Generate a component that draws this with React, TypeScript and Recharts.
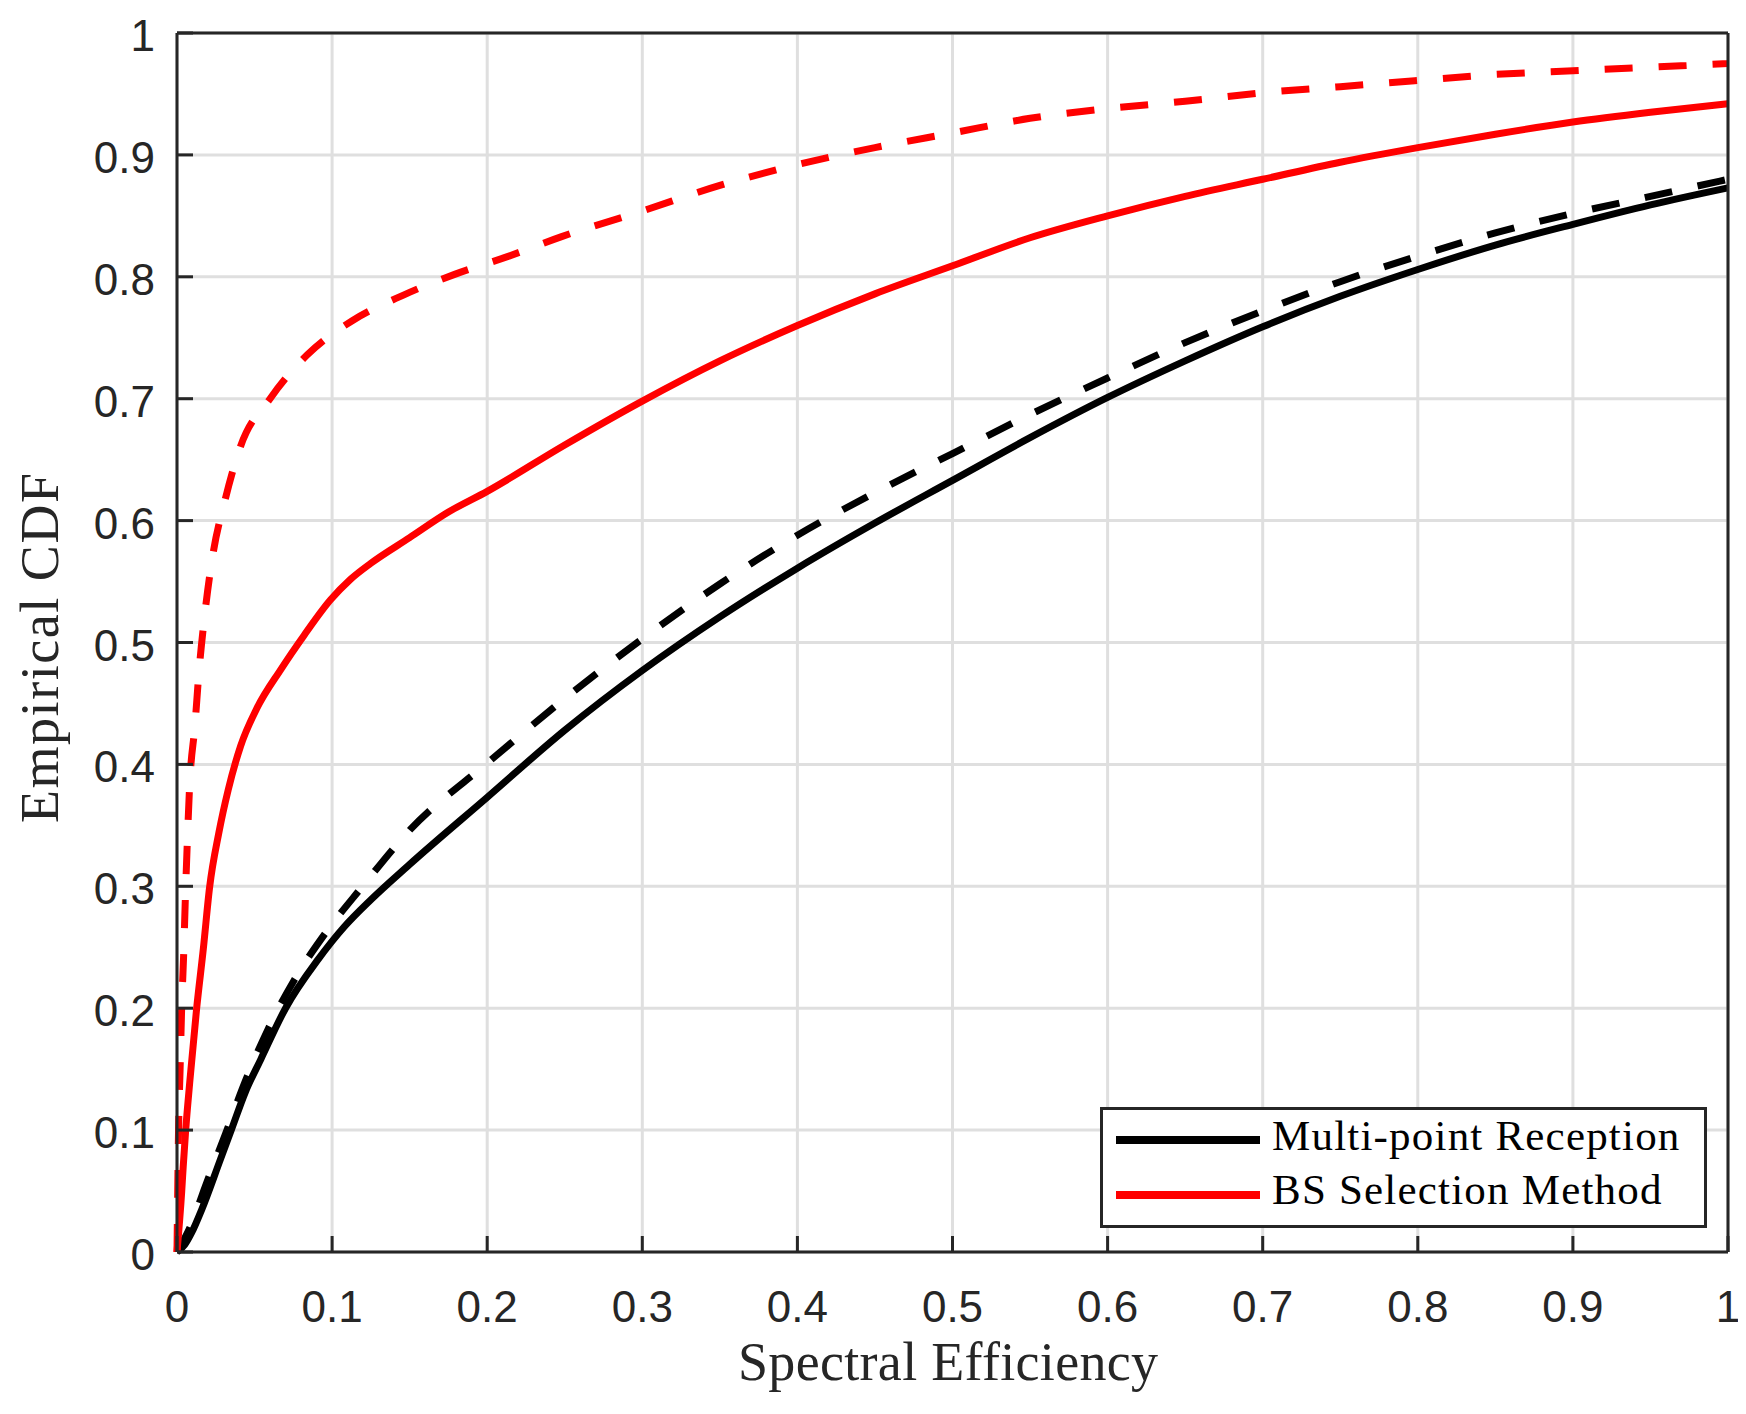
import { LineChart, Line, XAxis, YAxis, CartesianGrid, Legend } from 'recharts';

// axis ticks (both axes run 0..1)
const axisTicks = [0, 0.1, 0.2, 0.3, 0.4, 0.5, 0.6, 0.7, 0.8, 0.9, 1];

// legend entries, in the order shown
const legendNames = ['Multi-point Reception', 'BS Selection Method'];

// Multi-point Reception, solid black
const multiX = [0, 0.005, 0.0095, 0.016, 0.028, 0.035, 0.044, 0.054, 0.07, 0.091, 0.108, 0.125, 0.15, 0.2, 0.25, 0.3, 0.35, 0.4, 0.45, 0.5, 0.55, 0.6, 0.65, 0.7, 0.75, 0.8, 0.85, 0.9, 0.95, 1];
const multiY = [0, 0.006, 0.016, 0.035, 0.076, 0.1, 0.131, 0.158, 0.2, 0.24, 0.267, 0.289, 0.318, 0.373, 0.428, 0.477, 0.521, 0.561, 0.598, 0.633, 0.668, 0.701, 0.731, 0.759, 0.784, 0.806, 0.826, 0.843, 0.859, 0.873];

// Multi-point Reception, dashed black
const multiDashX = [0, 0.01, 0.018, 0.031, 0.044, 0.0588, 0.076, 0.0965, 0.119, 0.15, 0.2, 0.25, 0.3, 0.35, 0.4, 0.45, 0.5, 0.55, 0.6, 0.65, 0.7, 0.75, 0.8, 0.85, 0.9, 0.95, 1];
const multiDashY = [0, 0.025, 0.053, 0.096, 0.14, 0.183, 0.224, 0.263, 0.299, 0.346, 0.401, 0.454, 0.503, 0.548, 0.588, 0.623, 0.655, 0.687, 0.717, 0.746, 0.772, 0.796, 0.817, 0.836, 0.852, 0.866, 0.88];

// BS Selection Method, solid red
const bsX = [0, 0.003, 0.004, 0.0056, 0.0082, 0.0126, 0.017, 0.021, 0.027, 0.033, 0.041, 0.0515, 0.067, 0.082, 0.099, 0.112, 0.125, 0.15, 0.175, 0.2, 0.25, 0.3, 0.35, 0.4, 0.45, 0.5, 0.55, 0.6, 0.65, 0.7, 0.75, 0.8, 0.85, 0.9, 0.95, 1];
const bsY = [0, 0.049, 0.07, 0.1, 0.139, 0.199, 0.249, 0.299, 0.344, 0.379, 0.415, 0.446, 0.478, 0.506, 0.535, 0.552, 0.565, 0.586, 0.607, 0.624, 0.662, 0.698, 0.731, 0.76, 0.786, 0.809, 0.832, 0.85, 0.866, 0.88, 0.894, 0.906, 0.917, 0.927, 0.935, 0.942];

// BS Selection Method, dashed red
const bsDashX = [0, 0.001, 0.002, 0.003, 0.0043, 0.0054, 0.0067, 0.0082, 0.0115, 0.0143, 0.018, 0.023, 0.031, 0.041, 0.06, 0.084, 0.113, 0.146, 0.179, 0.214, 0.248, 0.3, 0.35, 0.4, 0.45, 0.5, 0.55, 0.6, 0.65, 0.7, 0.75, 0.8, 0.85, 0.9, 0.95, 1];
const bsDashY = [0, 0.1, 0.15, 0.2, 0.244, 0.291, 0.338, 0.384, 0.431, 0.478, 0.524, 0.571, 0.617, 0.661, 0.7, 0.736, 0.764, 0.785, 0.802, 0.817, 0.833, 0.854, 0.875, 0.892, 0.906, 0.918, 0.93, 0.938, 0.944, 0.951, 0.956, 0.961, 0.966, 0.969, 0.972, 0.975];

const zip = (xs: number[], ys: number[]) => xs.map((x, i) => ({ x, y: ys[i] }));

const INK = '#262626';
const TICK_LEN = 16;
const SANS = '"Liberation Sans", Arial, Helvetica, sans-serif';
const SERIF = '"Liberation Serif", "Times New Roman", serif';

function BottomTick({ x, y, payload }: any) {
  return (
    <g>
      <line x1={x} y1={y} x2={x} y2={y - TICK_LEN} stroke={INK} strokeWidth={3} />
      <text x={x} y={y + 70} textAnchor="middle" fontFamily={SANS} fontSize={44} fill={INK}>
        {String(payload.value)}
      </text>
    </g>
  );
}

function LeftTick({ x, y, payload }: any) {
  return (
    <g>
      <line x1={x} y1={y} x2={x + TICK_LEN} y2={y} stroke={INK} strokeWidth={3} />
      <text x={x - 22} y={y + 18} textAnchor="end" fontFamily={SANS} fontSize={44} fill={INK}>
        {String(payload.value)}
      </text>
    </g>
  );
}

function TopTick({ x, y }: any) {
  return <line x1={x} y1={y} x2={x} y2={y + TICK_LEN} stroke={INK} strokeWidth={3} />;
}

function RightTick({ x, y }: any) {
  return <line x1={x} y1={y} x2={x - TICK_LEN} y2={y} stroke={INK} strokeWidth={3} />;
}

const xLabel = () => (
  <text x={940} y={1372} textAnchor="middle" fontFamily={SERIF} fontSize={54} fill={INK}
    textLength={420} lengthAdjust="spacing">
    Spectral Efficiency
  </text>
);

const yLabel = () => (
  <text x={50} y={640} transform="rotate(-90 50 640)" textAnchor="middle" fontFamily={SERIF}
    fontSize={54} fill={INK} textLength={350} lengthAdjust="spacing">
    Empirical CDF
  </text>
);

function renderLegend({ payload }: any) {
  const items = legendNames
    .map((name) => (payload || []).find((p: any) => p.value === name))
    .filter(Boolean);
  return (
    <svg width={607} height={121} style={{ display: 'block' }}>
      <rect x={1.5} y={1.5} width={604} height={118} fill="#fff" stroke={INK} strokeWidth={3} />
      {items.map((p: any, i: number) => (
        <g key={p.value}>
          <line x1={16} x2={160} y1={33 + 55 * i} y2={33 + 55 * i} stroke={p.color} strokeWidth={8} />
          <text x={172} y={43 + 54 * i} fontFamily={SERIF} fontSize={43} fill="#000"
            letterSpacing={1.2}>
            {p.value}
          </text>
        </g>
      ))}
    </svg>
  );
}

export default function App() {
  return (
    <LineChart width={1730} height={1398} margin={{ top: 24, right: 9, bottom: 0, left: 0 }}>
      <CartesianGrid stroke="#dfdfdf" strokeWidth={3} />
      <XAxis
        dataKey="x"
        type="number"
        domain={[0, 1]}
        ticks={axisTicks}
        interval={0}
        height={154}
        tickSize={0}
        tickMargin={0}
        tickLine={false}
        axisLine={{ stroke: INK, strokeWidth: 3 }}
        tick={BottomTick}
        label={xLabel}
      />
      <XAxis
        xAxisId="top"
        orientation="top"
        dataKey="x"
        type="number"
        domain={[0, 1]}
        ticks={axisTicks}
        interval={0}
        height={1}
        tickSize={0}
        tickMargin={0}
        tickLine={false}
        axisLine={{ stroke: INK, strokeWidth: 3 }}
        tick={TopTick}
      />
      <YAxis
        type="number"
        domain={[0, 1]}
        ticks={axisTicks}
        interval={0}
        width={169}
        tickSize={0}
        tickMargin={0}
        tickLine={false}
        axisLine={{ stroke: INK, strokeWidth: 3 }}
        tick={LeftTick}
        label={yLabel}
      />
      <YAxis
        yAxisId="right"
        orientation="right"
        type="number"
        domain={[0, 1]}
        ticks={axisTicks}
        interval={0}
        width={1}
        tickSize={0}
        tickMargin={0}
        tickLine={false}
        axisLine={{ stroke: INK, strokeWidth: 3 }}
        tick={RightTick}
      />
      <Legend
        layout="vertical"
        align="center"
        verticalAlign="middle"
        wrapperStyle={{ left: 1092, top: 1099, width: 607, height: 121 }}
        content={renderLegend}
      />
      <Line data={zip(multiX, multiY)} dataKey="y" name="Multi-point Reception"
        type="monotone" stroke="#000" strokeWidth={7} dot={false} activeDot={false}
        legendType="line" isAnimationActive={false} />
      <Line data={zip(multiDashX, multiDashY)} dataKey="y" name="Multi-point Reception (dashed)"
        type="monotone" stroke="#000" strokeWidth={7} strokeDasharray="28 26" dot={false}
        activeDot={false} legendType="none" isAnimationActive={false} />
      <Line data={zip(bsX, bsY)} dataKey="y" name="BS Selection Method"
        type="monotone" stroke="#ff0000" strokeWidth={7} dot={false} activeDot={false}
        legendType="line" isAnimationActive={false} />
      <Line data={zip(bsDashX, bsDashY)} dataKey="y" name="BS Selection Method (dashed)"
        type="monotone" stroke="#ff0000" strokeWidth={7} strokeDasharray="28 26" dot={false}
        activeDot={false} legendType="none" isAnimationActive={false} />
    </LineChart>
  );
}
